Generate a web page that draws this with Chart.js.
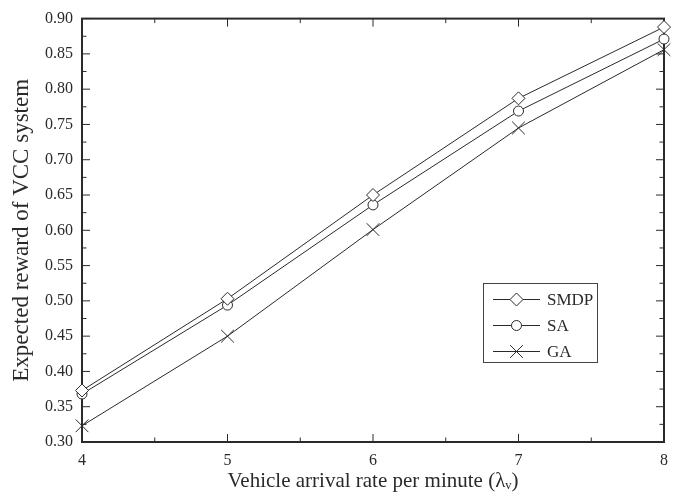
<!DOCTYPE html>
<html>
<head>
<meta charset="utf-8">
<script src="https://cdn.jsdelivr.net/npm/chart.js@4/dist/chart.umd.min.js"></script>
<style>
html, body { margin: 0; background: #fff; }
#wrap { width: 681px; height: 494px; }
</style>
</head>
<body>
<div id="wrap"><canvas id="chart" width="681" height="494"></canvas></div>
<script>
const rates = [4, 5, 6, 7, 8];
const smdpReward = [0.373, 0.503, 0.650, 0.787, 0.888];
const saReward = [0.368, 0.494, 0.636, 0.769, 0.871];
const gaReward = [0.323, 0.450, 0.601, 0.745, 0.856];
const seriesNames = ["SMDP", "SA", "GA"];

const ink = "#2a2a2a";
const serif = "'Liberation Serif', 'Times New Roman', serif";

const toPoints = vals => vals.map((v, i) => ({ x: rates[i], y: v }));

function series(label, vals, style, radius) {
    return {
        label, data: toPoints(vals),
        borderColor: ink, borderWidth: 1,
        pointStyle: style, pointRadius: radius, pointHoverRadius: radius,
        pointBackgroundColor: "#fff", pointBorderColor: ink, pointBorderWidth: 1,
        tension: 0, clip: false
    };
}

// box + inward ticks on all four sides, minor ticks halfway between majors
const framePlugin = {
    id: "frame",
    beforeDatasetsDraw(chart) {
        const { ctx, chartArea: a, scales: { x, y } } = chart;
        ctx.save();
        ctx.strokeStyle = ink;
        ctx.lineWidth = 1;
        const xs = x.ticks.map(t => t.value), ys = y.ticks.map(t => t.value);
        const mark = (vals, step, major, minor) => {
            vals.forEach((v, i) => {
                major(v);
                if (i < vals.length - 1) minor(v + step / 2);
            });
        };
        ctx.beginPath();
        mark(xs, 1, v => {
            const px = x.getPixelForValue(v);
            ctx.moveTo(px, a.bottom); ctx.lineTo(px, a.bottom - 8);
            ctx.moveTo(px, a.top); ctx.lineTo(px, a.top + 8);
        }, v => {
            const px = x.getPixelForValue(v);
            ctx.moveTo(px, a.bottom); ctx.lineTo(px, a.bottom - 4.5);
            ctx.moveTo(px, a.top); ctx.lineTo(px, a.top + 4.5);
        });
        mark(ys, 0.05, v => {
            const py = y.getPixelForValue(v);
            ctx.moveTo(a.left, py); ctx.lineTo(a.left + 8, py);
            ctx.moveTo(a.right, py); ctx.lineTo(a.right - 8, py);
        }, v => {
            const py = y.getPixelForValue(v);
            ctx.moveTo(a.left, py); ctx.lineTo(a.left + 4.5, py);
            ctx.moveTo(a.right, py); ctx.lineTo(a.right - 4.5, py);
        });
        ctx.stroke();
        ctx.lineWidth = 2;
        ctx.strokeRect(a.left, a.top, a.right - a.left, a.bottom - a.top);
        ctx.restore();
    }
};

const legendPlugin = {
    id: "boxLegend",
    afterDraw(chart) {
        const { ctx } = chart;
        const box = { x: 483, y: 283, w: 114, h: 79 };
        ctx.save();
        ctx.fillStyle = "#fff";
        ctx.fillRect(box.x, box.y, box.w, box.h);
        ctx.strokeStyle = "#444";
        ctx.lineWidth = 1;
        ctx.strokeRect(box.x + 0.5, box.y + 0.5, box.w, box.h);
        ctx.font = "17px " + serif;
        ctx.textBaseline = "middle";
        chart.data.datasets.forEach((ds, i) => {
            const ly = 299.5 + i * 26;
            ctx.strokeStyle = ink;
            ctx.beginPath();
            ctx.moveTo(493, ly); ctx.lineTo(540, ly);
            ctx.stroke();
            ctx.fillStyle = "#fff";
            Chart.helpers.drawPoint(ctx, { pointStyle: ds.pointStyle, radius: ds.pointRadius, rotation: 0, borderWidth: 1 }, 516.5, ly);
            ctx.fillStyle = ink;
            ctx.fillText(ds.label, 547, ly + 1);
        });
        ctx.restore();
    }
};

new Chart(document.getElementById("chart"), {
    type: "line",
    data: {
        datasets: [
            series(seriesNames[0], smdpReward, "rectRot", 6.5),
            series(seriesNames[1], saReward, "circle", 5),
            series(seriesNames[2], gaReward, "crossRot", 9)
        ]
    },
    options: {
        responsive: false,
        devicePixelRatio: 1,
        animation: false,
        events: [],
        layout: { padding: { top: 15, right: 17, left: 0, bottom: 0 } },
        plugins: { legend: { display: false }, tooltip: { enabled: false } },
        scales: {
            x: {
                type: "linear", min: 4, max: 8,
                afterFit: s => { s.height = 52; },
                grid: { display: false, drawTicks: false },
                border: { display: false },
                ticks: { stepSize: 1, padding: 9, color: ink, font: { family: serif, size: 16 } },
                title: {
                    display: true, text: "Vehicle arrival rate per minute (\u03bb\u1d65)",
                    color: ink, font: { family: serif, size: 21 }, padding: { top: 0, bottom: 0 }
                }
            },
            y: {
                min: 0.30, max: 0.90,
                afterFit: s => { s.width = 82; },
                grid: { display: false, drawTicks: false },
                border: { display: false },
                ticks: { stepSize: 0.05, padding: 9, color: ink, font: { family: serif, size: 16 },
                    callback: v => v.toFixed(2) },
                title: {
                    display: true, text: "Expected reward of VCC system",
                    color: ink, font: { family: serif, size: 23 }, padding: { top: 8, bottom: 0 }
                }
            }
        }
    },
    plugins: [framePlugin, legendPlugin]
});
</script>
</body>
</html>
